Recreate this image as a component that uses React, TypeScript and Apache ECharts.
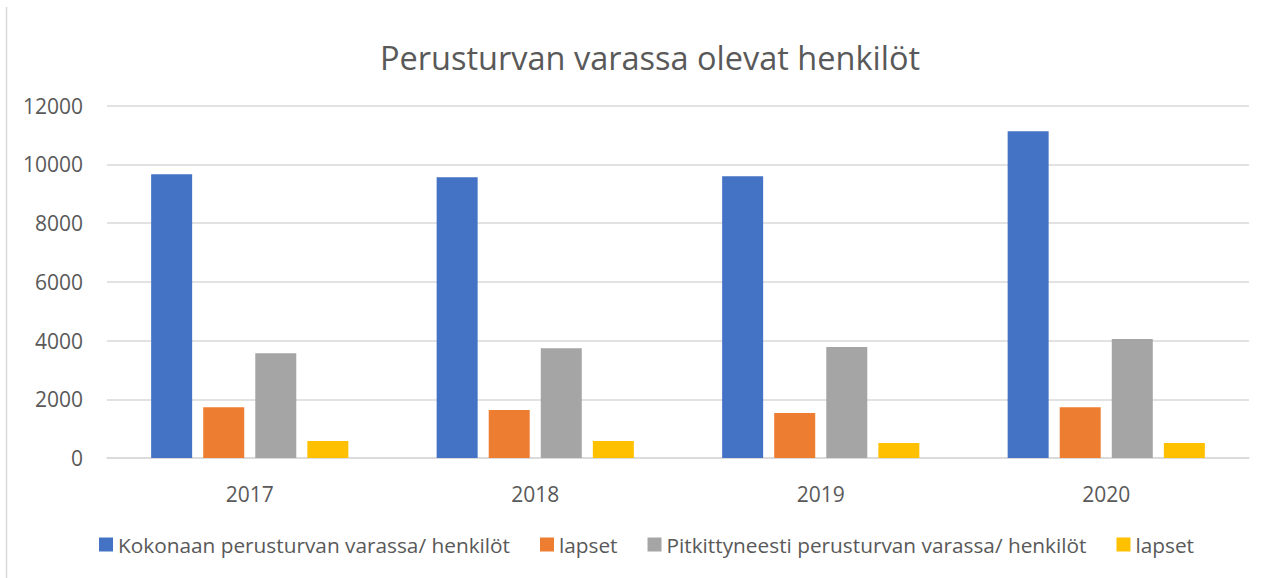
import React, { useEffect, useRef } from "react";
import * as echarts from "echarts";

const years = ["2017", "2018", "2019", "2020"];
const seriesNames = [
  "Kokonaan perusturvan varassa/ henkilöt",
  "lapset",
  "Pitkittyneesti perusturvan varassa/ henkilöt",
  "lapset",
];
const kokonaan = [9660, 9560, 9590, 11120];
const kokonaanLapset = [1730, 1630, 1530, 1730];
const pitkittyneesti = [3570, 3740, 3780, 4050];
const pitkittyneestiLapset = [580, 580, 510, 510];
const colors = ["#4472C4", "#ED7D31", "#A5A5A5", "#FFC000"];
const yTicks = { min: 0, max: 12000, interval: 2000 };

const FONT = "'Open Sans', 'Noto Sans', sans-serif";

export default function App() {
  const ref = useRef<HTMLDivElement>(null);
  useEffect(() => {
    if (!ref.current) return;
    const chart = echarts.init(ref.current, undefined, { renderer: "svg" });
    const values = [kokonaan, kokonaanLapset, pitkittyneesti, pitkittyneestiLapset];
    const ids = seriesNames.map((n, i) => `${n}#${i}`);
    chart.setOption({
      animation: false,
      backgroundColor: "#ffffff",
      title: {
        text: "Perusturvan varassa olevat henkilöt",
        left: 645,
        textAlign: "center",
        top: 36,
        textStyle: { fontFamily: FONT, fontSize: 32.5, fontWeight: "normal", color: "#595959" },
      },
      legend: {
        left: 99,
        top: 534,
        padding: 0,
        itemWidth: 14,
        itemHeight: 14,
        itemGap: 30,
        icon: "rect",
        data: ids,
        formatter: (name: string) => name.replace(/#\d+$/, ""),
        textStyle: { fontFamily: FONT, fontSize: 20.8, color: "#595959" },
      },
      grid: { left: 107, right: 27, top: 105.5, bottom: 120, containLabel: false },
      xAxis: {
        type: "category",
        data: years,
        axisLine: { lineStyle: { color: "#d9d9d9", width: 1.5 } },
        axisTick: { show: false },
        axisLabel: { fontFamily: FONT, fontSize: 21, color: "#595959", margin: 25 },
      },
      yAxis: {
        type: "value",
        min: yTicks.min,
        max: yTicks.max,
        interval: yTicks.interval,
        axisLine: { show: false },
        axisTick: { show: false },
        axisLabel: {
          fontFamily: FONT,
          fontSize: 21,
          color: "#595959",
          margin: 24,
          formatter: (v: number) => String(v),
        },
        splitLine: { lineStyle: { color: "#d9d9d9", width: 1.5 } },
      },
      graphic: [
        {
          type: "line",
          shape: { x1: 6.5, y1: 7, x2: 6.5, y2: 578 },
          style: { stroke: "#d9d9d9", lineWidth: 1.5 },
        },
      ],
      series: values.map((v, i) => ({
        type: "bar",
        name: ids[i],
        data: v,
        barWidth: 41,
        barGap: "27%",
        itemStyle: { color: colors[i] },
      })),
    });
    return () => chart.dispose();
  }, []);
  return (
    <div
      ref={ref}
      style={{ position: "fixed", left: 0, top: 0, width: 1276, height: 578 }}
    />
  );
}
